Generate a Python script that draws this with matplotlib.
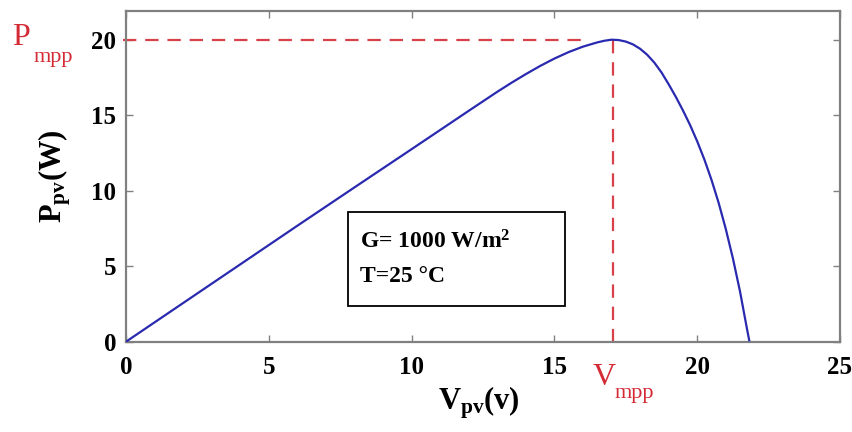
import matplotlib
matplotlib.use("Agg")
import matplotlib.pyplot as plt
from matplotlib.patches import Rectangle

# ---- data ----
v_pv = [0, 2, 4, 6, 8, 10, 11, 12, 13, 13.5, 14, 14.5, 15, 15.5, 16, 16.5,
        16.75, 17, 17.25, 17.5, 17.75, 18, 18.25, 18.5, 18.75, 19, 19.25,
        19.5, 19.75, 20, 20.25, 20.5, 20.75, 21, 21.25, 21.5, 21.75, 21.82]
p_pv = [0, 2.56, 5.12, 7.68, 10.22, 12.75, 14.02, 15.29, 16.55, 17.15,
        17.72, 18.26, 18.75, 19.18, 19.54, 19.82, 19.93, 20.0, 19.975, 19.875,
        19.69, 19.40, 19.00, 18.48, 17.83, 17.05, 16.22, 15.32, 14.35, 13.27,
        12.07, 10.72, 9.2, 7.47, 5.52, 3.32, 0.78, 0.1]
v_mpp = 17.05
p_mpp = 20.0
x_ticks = [0, 5, 10, 15, 20, 25]
y_ticks = [0, 5, 10, 15, 20]

plt.rcParams['font.family'] = ['Liberation Serif', 'DejaVu Serif']
plt.rcParams['mathtext.fontset'] = 'custom'
plt.rcParams['mathtext.rm'] = 'Liberation Serif'
plt.rcParams['mathtext.bf'] = 'Liberation Serif:bold'
plt.rcParams['mathtext.it'] = 'Liberation Serif:italic'

W, H = 853, 432
fig = plt.figure(figsize=(W / 100, H / 100), dpi=100)
L, R, T, B = 126, 840, 11, 341.7
ax = fig.add_axes([L / W, (H - B) / H, (R - L) / W, (B - T) / H])

curve_color = '#2a2ab0'
red = '#d42a35'
dash_red = '#d8404a'
gray = '#808080'

ax.plot(v_pv, p_pv, color=curve_color, lw=1.6, zorder=3,
        solid_joinstyle='round')

# MPP dashed guides
ax.plot([-0.1, 16.0], [p_mpp, p_mpp], color=dash_red, lw=1.6,
        dashes=(6, 4), clip_on=False, zorder=2)
ax.plot([v_mpp, v_mpp], [p_mpp, -0.45], color=dash_red, lw=1.6,
        dashes=(6, 4), clip_on=False, zorder=2)

ax.set_xlim(0, 25)
ax.set_ylim(0, 21.9)
ax.set_xticks(x_ticks)
ax.set_yticks(y_ticks)
ax.tick_params(direction='in', length=5, width=1, color=gray,
               top=True, right=True, labelsize=18)
ax.tick_params(axis='x', pad=10)
ax.tick_params(axis='y', pad=7)
for lab in ax.get_xticklabels() + ax.get_yticklabels():
    lab.set_fontweight('bold')
for s in ax.spines.values():
    s.set_color(gray)
    s.set_linewidth(1.6)

ax.set_xlabel(r'$\mathbf{V_{pv}(v)}$', fontsize=22, labelpad=1)
ax.xaxis.set_label_coords(0.495, -0.13)
ax.xaxis.label.set_va('top')
ax.set_ylabel(r'$\mathbf{P_{pv}(W)}$', fontsize=22, labelpad=13)

# info box
ax.add_patch(Rectangle((0.311, 0.108), 0.304, 0.285, transform=ax.transAxes,
                       fill=True, facecolor='white', edgecolor='black',
                       lw=1.3, zorder=4))
ax.text(0.328, 0.283, r'G= 1000 W/m$^{\mathbf{2}}$', transform=ax.transAxes,
        fontsize=17, fontweight='bold', zorder=5)
ax.text(0.328, 0.180, 'T=25 °C', transform=ax.transAxes,
        fontsize=17, fontweight='bold', zorder=5)

# MPP labels
fig.text(12 / W, (H - 45) / H, 'P', color=red, fontsize=23)
fig.text(34 / W, (H - 62) / H, 'mpp', color=red, fontsize=16)
fig.text(593 / W, (H - 385) / H, 'V', color=red, fontsize=23)
fig.text(615 / W, (H - 398) / H, 'mpp', color=red, fontsize=16)

fig.savefig('out.png', dpi=100, facecolor='white')
